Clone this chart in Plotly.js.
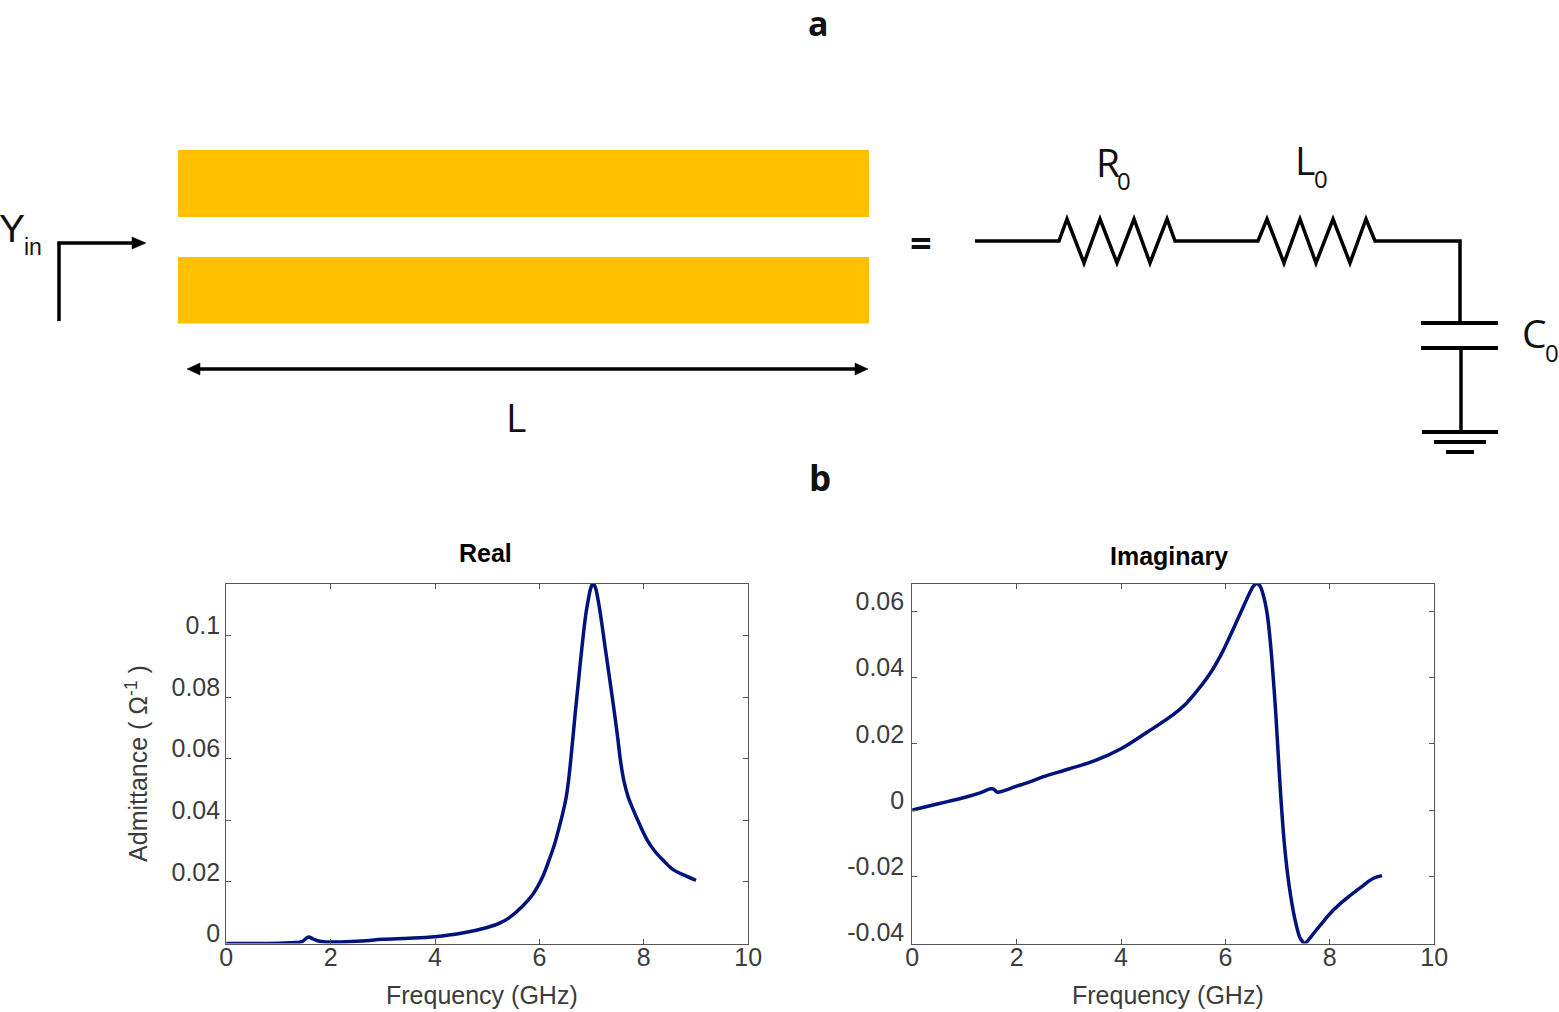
<!DOCTYPE html>
<html>
<head>
<meta charset="utf-8">
<script src="https://cdn.plot.ly/plotly-3.0.1.min.js"></script>
<style>html,body{margin:0;padding:0;background:#fff}#chart{width:1559px;height:1012px}</style>
</head>
<body>
<div id="chart"></div>
<script>
// Data
const realFreq = [0,0.5,1,1.3,1.45,1.52,1.58,1.65,1.75,1.9,2.2,2.6,3,3.5,4,4.5,5,5.24,5.431,5.655,5.879,6.058,6.173,6.29,6.38,6.45,6.513,6.555,6.594,6.64,6.685,6.75,6.815,6.89,6.945,6.985,7.029,7.075,7.115,7.169,7.259,7.35,7.44,7.5,7.553,7.62,7.7,7.79,7.872,7.97,8.057,8.2,8.371,8.562,8.786,9];
const realAdm = [0,0,0.0001,0.0003,0.0006,0.0015,0.0021,0.0016,0.0009,0.0005,0.0005,0.0008,0.0014,0.0017,0.0022,0.0033,0.0052,0.0066,0.0085,0.0118,0.0161,0.0215,0.0265,0.0322,0.0378,0.0425,0.0475,0.0525,0.0585,0.0665,0.0746,0.0854,0.0962,0.107,0.1124,0.1155,0.1169,0.1155,0.1124,0.107,0.0962,0.0854,0.0746,0.0668,0.0594,0.0527,0.0476,0.0437,0.0405,0.0368,0.0338,0.0302,0.027,0.024,0.0221,0.0205];
const imagFreq = [0,0.5,1,1.3,1.5,1.56,1.63,1.75,2,2.2,2.5,3,3.5,4,4.5,5,5.25,5.45,5.706,5.93,6.14,6.313,6.46,6.54,6.6,6.66,6.728,6.8,6.87,6.92,6.965,7.029,7.07,7.118,7.182,7.252,7.335,7.419,7.47,7.52,7.56,7.642,7.847,8.07,8.326,8.613,8.837,9];
const imagAdm = [0,0.0019,0.0038,0.0052,0.0064,0.0063,0.0054,0.0058,0.0072,0.0082,0.01,0.0124,0.0149,0.0185,0.0235,0.0288,0.0322,0.0358,0.0412,0.0473,0.0543,0.0603,0.0654,0.0677,0.0684,0.0677,0.0648,0.0593,0.0492,0.0392,0.0292,0.0121,0.002,-0.0081,-0.0181,-0.0261,-0.0332,-0.0382,-0.0396,-0.0403,-0.0398,-0.0382,-0.0342,-0.0302,-0.0266,-0.0231,-0.0206,-0.0198];
const xTicks = [0,2,4,6,8,10];
const realTicks = [0,0.02,0.04,0.06,0.08,0.1];
const imagTicks = [-0.04,-0.02,0,0.02,0.04,0.06];
const realTitle = "Real", imagTitle = "Imaginary";
const xLabel = "Frequency (GHz)", yLabel = "Admittance ( Ω<sup>-1</sup> )";

const W = 1559, H = 1012;
const px = v => v / W, py = v => 1 - v / H;
const lineColor = "#000", navy = "#00137c", gold = "#ffc000", axisColor = "#555", textColor = "#3c3c3c";
const chartFont = "Liberation Sans, Arial, sans-serif", schemFont = "Open Sans, sans-serif";

function pathOf(pts, close) {
  return "M" + pts.map(p => px(p[0]).toFixed(5) + " " + py(p[1]).toFixed(5)).join(" L") + (close ? " Z" : "");
}
function stroke(pts, w) {
  return {type:"path", xref:"paper", yref:"paper", path:pathOf(pts), line:{color:lineColor, width:w||3.5}, layer:"above"};
}
function fill(pts) {
  return {type:"path", xref:"paper", yref:"paper", path:pathOf(pts,true), fillcolor:lineColor, line:{color:lineColor, width:0.5}, layer:"above"};
}
function box(x0,y0,x1,y1) {
  return {type:"rect", xref:"paper", yref:"paper", x0:px(x0), x1:px(x1), y0:py(y1), y1:py(y0), fillcolor:gold, line:{width:0}, layer:"below"};
}
function label(text,x,y,size,family,color) {
  return {text, xref:"paper", yref:"paper", x:px(x), y:py(y), showarrow:false, xanchor:"center", yanchor:"middle",
    font:{family:family||schemFont, size, color:color||"#111"}};
}

const shapes = [
  box(178,150,869,217), box(178,257,869,323.5),
  stroke([[59,321],[59,243],[134,243]]),
  fill([[132,237],[146,243],[132,249]]),
  stroke([[198,369],[858,369]]),
  fill([[200,363],[187,369],[200,375]]),
  fill([[855,363],[868,369],[855,375]]),
  stroke([[975,241],[1059,241],[1067,219],[1084,263],[1100,219],[1117,263],[1134,219],[1150,263],[1167,219],[1175,241],
          [1258,241],[1267,219],[1284,263],[1300,219],[1316,263],[1333,219],[1350,263],[1366,219],[1375,241],[1460,241],[1460,322]]),
  stroke([[1421,323],[1498,323]],4),
  stroke([[1421,348],[1498,348]],4),
  stroke([[1461,348],[1461,432]]),
  stroke([[1422,432],[1498,432]],4),
  stroke([[1434,442],[1486,442]],4),
  stroke([[1446,452],[1474,452]],4)
];

const annotations = [
  label("<b>a</b>",818,23,34),
  label("<b>b</b>",820,477,35),
  label("Y",12,228,39,chartFont),
  label("in",33,247,23,chartFont),
  label("<b>=</b>",921,242,38),
  label("L",516,417,39),
  label("R",1108,162,39),
  label("0",1124,181,24),
  label("L",1305,160,39),
  label("0",1321,179,24),
  label("C",1534,332,39),
  label("0",1552,352,24),
  label("<b>"+realTitle+"</b>",486,553,25,chartFont,"#000"),
  label("<b>"+imagTitle+"</b>",1169,556,25,chartFont,"#000"),
  label(xLabel,482.5,995,25,chartFont,textColor),
  label(xLabel,1167.5,995,25,chartFont,textColor)
];

function xAxis(domain, anchor) {
  return {domain, anchor, range:[0,10], tickvals:xTicks, ticktext:xTicks.map(String), ticks:"inside", ticklen:5, tickwidth:1, tickcolor:axisColor,
    showline:true, linecolor:axisColor, linewidth:1, mirror:"ticks", showgrid:false, zeroline:false,
    ticklabelstandoff:-9, tickfont:{family:chartFont,size:25,color:textColor}};
}
function yAxis(range, ticks, anchor, standoff, title) {
  const ax = {domain:[py(943.5),py(583.5)], anchor, range, tickvals:ticks, ticktext:ticks.map(String), ticks:"inside", ticklen:5, tickwidth:1, tickcolor:axisColor,
    showline:true, linecolor:axisColor, linewidth:1, mirror:"ticks", showgrid:false, zeroline:false,
    ticklabelshift:-10, ticklabelstandoff:standoff, tickfont:{family:chartFont,size:25,color:textColor}};
  if (title) ax.title = {text:title, font:{family:chartFont,size:25,color:textColor}, standoff:16};
  return ax;
}

const curve = {color:navy,width:3.5,shape:"spline",smoothing:1};
const traces = [
  {x:realFreq, y:realAdm, xaxis:"x", yaxis:"y", type:"scatter", mode:"lines", line:curve, hoverinfo:"x+y"},
  {x:imagFreq, y:imagAdm, xaxis:"x2", yaxis:"y2", type:"scatter", mode:"lines", line:curve, hoverinfo:"x+y"}
];

const layout = {
  width:W, height:H, margin:{l:0,r:0,t:0,b:0}, paper_bgcolor:"#fff", plot_bgcolor:"#fff", showlegend:false,
  xaxis:xAxis([px(226.2),px(748.2)],"y"),
  yaxis:yAxis([0,0.1169],realTicks,"x",0,yLabel),
  xaxis2:xAxis([px(912.2),px(1434.2)],"y2"),
  yaxis2:yAxis([-0.0403,0.0684],imagTicks,"x2",2),
  shapes, annotations
};
Plotly.newPlot("chart",traces,layout,{displayModeBar:false,staticPlot:true});
</script>
</body>
</html>
